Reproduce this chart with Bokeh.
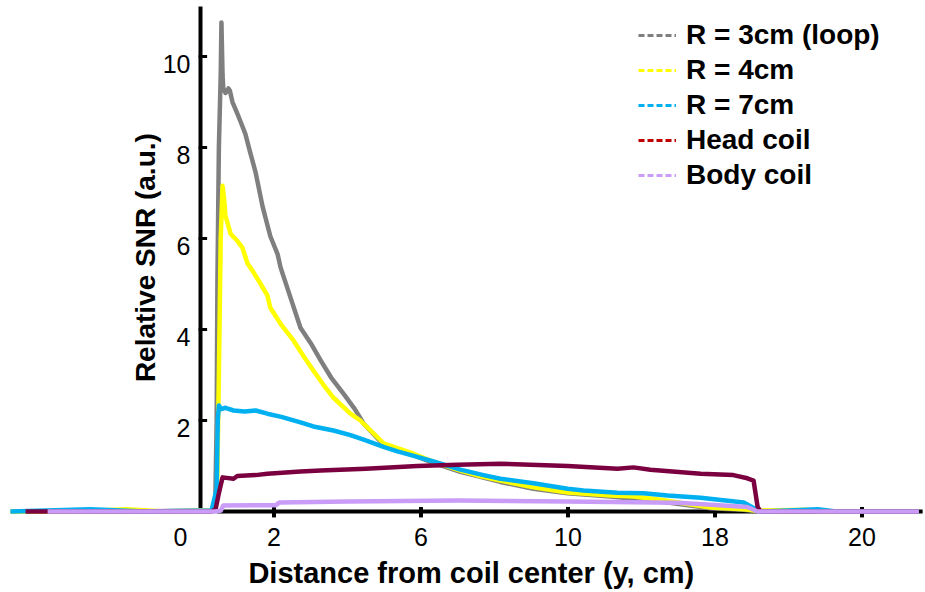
from bokeh.plotting import figure
from bokeh.models import Range1d, Legend, LegendItem, Label, ColumnDataSource
from bokeh.core.properties import value
from bokeh.embed import file_html
from bokeh.resources import INLINE
import math

# ---- data: relative SNR profiles along y (cm) ----
loop3_x = [-5.17, -2.0, 0.30, 0.40, 0.44, 0.46, 0.50, 0.55, 0.57, 0.60, 0.62, 0.68, 0.76, 0.80, 0.87,
           1.00, 1.10, 1.22, 1.35, 1.50, 1.69, 1.90, 2.10, 2.18, 2.45, 2.72, 3.00, 3.27, 3.55, 3.89,
           4.20, 4.44, 4.98, 5.80, 6.26, 7.07, 8.16, 9.06, 9.99, 11.16, 12.52, 13.88, 14.78, 15.10, 19.55]
loop3_y = [0.00, 0.00, 0.02, 0.10, 2.00, 5.00, 8.00, 9.60, 10.75, 9.60, 9.30, 9.20, 9.30, 9.25, 9.00,
           8.75, 8.55, 8.30, 7.90, 7.45, 6.70, 6.05, 5.65, 5.36, 4.70, 4.04, 3.70, 3.32, 2.95, 2.59,
           2.25, 1.93, 1.47, 1.24, 1.09, 0.87, 0.65, 0.50, 0.40, 0.33, 0.22, 0.07, 0.04, 0.01, 0.00]

r4_x = [-5.17, -3.5, -2.0, -1.0, 0.30, 0.45, 0.50, 0.55, 0.60, 0.64, 0.68, 0.82, 1.00, 1.14, 1.28,
        1.41, 1.60, 1.82, 1.90, 2.20, 2.53, 2.80, 3.07, 3.35, 3.62, 4.08, 4.35, 4.98, 5.40, 5.80,
        6.26, 6.70, 7.07, 7.60, 8.16, 9.06, 9.99, 11.16, 11.78, 12.52, 13.20, 13.88, 14.78, 15.10,
        16.50, 17.00, 19.55]
r4_y = [0.00, 0.00, 0.05, 0.00, 0.02, 0.30, 3.00, 6.00, 7.16, 6.90, 6.50, 6.10, 5.95, 5.80, 5.45,
        5.30, 5.05, 4.75, 4.48, 4.10, 3.76, 3.42, 3.10, 2.78, 2.50, 2.15, 2.00, 1.50, 1.38, 1.27,
        1.12, 1.00, 0.90, 0.78, 0.68, 0.53, 0.42, 0.35, 0.33, 0.26, 0.17, 0.09, 0.05, 0.02,
        0.04, 0.00, 0.00]

r7_x = [-5.17, -3.0, -1.5, 0.30, 0.44, 0.47, 0.50, 0.56, 0.68, 0.90, 1.20, 1.50, 1.82, 2.20, 2.72,
        3.07, 3.62, 4.08, 4.44, 4.98, 5.36, 5.90, 6.34, 7.07, 7.70, 8.16, 9.06, 9.99, 10.42, 11.35,
        12.05, 12.71, 13.61, 14.78, 15.05, 15.20, 16.80, 17.30, 19.55]
r7_y = [0.00, 0.05, 0.00, 0.02, 0.50, 2.00, 2.33, 2.25, 2.28, 2.22, 2.20, 2.22, 2.15, 2.08, 1.96,
        1.87, 1.78, 1.68, 1.58, 1.42, 1.32, 1.20, 1.10, 0.92, 0.80, 0.72, 0.62, 0.50, 0.46, 0.41,
        0.40, 0.35, 0.30, 0.20, 0.08, 0.00, 0.05, 0.00, 0.00]

head_x = [-4.76, 0.30, 0.41, 0.50, 0.60, 0.90, 1.00, 1.50, 1.82, 2.72, 3.27, 4.50, 5.90, 7.00, 8.16,
          9.99, 11.35, 11.78, 12.24, 13.61, 14.50, 14.88, 15.05, 15.16, 15.24, 19.55]
head_y = [0.00, 0.00, 0.05, 0.40, 0.75, 0.72, 0.78, 0.80, 0.83, 0.88, 0.90, 0.94, 1.00, 1.03, 1.05,
          1.00, 0.94, 0.97, 0.92, 0.83, 0.80, 0.73, 0.68, 0.10, 0.00, 0.00]

body_x = [-4.16, 0.40, 0.55, 0.62, 1.50, 2.05, 2.15, 4.00, 7.00, 10.00, 13.00, 14.88, 15.16, 19.55]
body_y = [0.00, 0.00, 0.02, 0.13, 0.14, 0.14, 0.20, 0.22, 0.24, 0.22, 0.19, 0.10, 0.00, 0.00]

series_names = ["R = 3cm (loop)", "R = 4cm", "R = 7cm", "Head coil", "Body coil"]
line_colors = ["#7f7f7f", "#ffff00", "#00b0f0", "#7a0040", "#c89cf7"]
legend_colors = ["#7f7f7f", "#ffff00", "#00b0f0", "#c00000", "#c89cf7"]

y_ticks = [2, 4, 6, 8, 10]
y_tick_labels = ["2", "4", "6", "8", "10"]
x_ticks = [2, 6, 10, 14, 18]
x_tick_label_pos = [0, 2, 6, 10, 14, 18]
x_tick_labels = ["0", "2", "6", "10", "18", "20"]

x_title = "Distance from coil center (y, cm)"
y_title = "Relative SNR (a.u.)"

# ---- figure ----
FONT = "Liberation Sans"
p = figure(width=925, height=592,
           x_range=Range1d(-5.442, 19.728), y_range=Range1d(-1.780, 11.231),
           x_axis_type=None, y_axis_type=None, min_border=0,
           outline_line_color=None, toolbar_location=None, output_backend="svg")
p.grid.visible = False

# hand-drawn axes: vertical axis at x = 0, horizontal axis at y = 0
Y_AXIS_BOTTOM, Y_AXIS_TOP = 0.07, 11.1
X_AXIS_LEFT, X_AXIS_RIGHT = 0.45, 19.65
p.segment(x0=[0], y0=[Y_AXIS_BOTTOM], x1=[0], y1=[Y_AXIS_TOP], line_color="black", line_width=4)
p.segment(x0=[X_AXIS_LEFT], y0=[0], x1=[X_AXIS_RIGHT], y1=[0], line_color="black", line_width=4)
p.segment(x0=[-0.05] * len(y_ticks), y0=y_ticks, x1=[0.18] * len(y_ticks), y1=y_ticks,
          line_color="black", line_width=3)
p.segment(x0=x_ticks, y0=[0.10] * len(x_ticks), x1=x_ticks, y1=[-0.13] * len(x_ticks),
          line_color="black", line_width=4)

# tick labels
p.text(x=[0] * len(y_ticks), y=y_ticks, text=y_tick_labels, x_offset=-10, y_offset=7,
       text_align="right", text_baseline="middle", text_font=value(FONT),
       text_font_size="25px", text_color="black")
xl_src = ColumnDataSource(dict(x=x_tick_label_pos, y=[0] * len(x_tick_label_pos), text=x_tick_labels,
                               dx=[-20, 0, 0, 0, 0, 0]))
p.text(x="x", y="y", text="text", x_offset="dx", y_offset=25, source=xl_src,
       text_align="center", text_baseline="middle", text_font=value(FONT),
       text_font_size="25px", text_color="black")

# axis titles
p.add_layout(Label(x=7.37, y=-1.36, text=x_title, text_align="center", text_baseline="middle",
                   text_font=FONT, text_font_size="29px", text_font_style="bold",
                   text_color="black"))
p.add_layout(Label(x=-1.50, y=5.58, text=y_title, angle=math.pi / 2, text_align="center",
                   text_baseline="middle", text_font=FONT, text_font_size="28px",
                   text_font_style="bold", text_color="black"))

# profiles
xs = [loop3_x, r4_x, r7_x, head_x, body_x]
ys = [loop3_y, r4_y, r7_y, head_y, body_y]
for sx, sy, c in zip(xs, ys, line_colors):
    p.line(sx, sy, line_color=c, line_width=4.5, line_join="round")

# legend with dashed samples (legend-only renderers carry no visible data)
nan = float("nan")
items = []
for name, c in zip(series_names, legend_colors):
    r = p.line([nan, nan], [nan, nan], line_color=c, line_width=3, line_dash="6 3")
    items.append(LegendItem(label=name, renderers=[r]))
legend = Legend(items=items, location=(638, 400), orientation="vertical",
                glyph_width=38, glyph_height=20, label_standoff=10, label_height=35,
                spacing=0, padding=0, margin=0,
                label_text_font=FONT, label_text_font_size="28px", label_text_font_style="bold",
                label_text_color="black",
                border_line_color=None, background_fill_alpha=0)
p.add_layout(legend, "center")

open("out.html", "w").write(file_html(p, INLINE))
